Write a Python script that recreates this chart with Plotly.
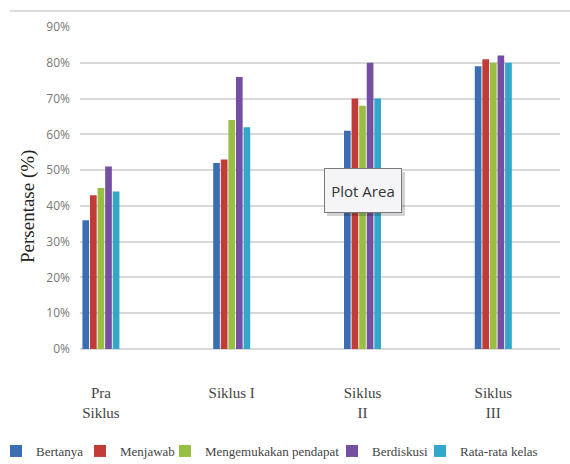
import plotly.graph_objects as go

categories = ["Pra<br>Siklus", "Siklus I", "Siklus<br>II", "Siklus<br>III"]
series_names = ["Bertanya", "Menjawab", "Mengemukakan pendapat", "Berdiskusi", "Rata-rata kelas"]
bertanya = [0.36, 0.52, 0.61, 0.79]
menjawab = [0.43, 0.53, 0.70, 0.81]
mengemukakan = [0.45, 0.64, 0.68, 0.80]
berdiskusi = [0.51, 0.76, 0.80, 0.82]
rata_rata = [0.44, 0.62, 0.70, 0.80]
colors = ["#3b6db3", "#c23b36", "#98bf43", "#744fa2", "#33a7c9"]
y_ticks = [0, 0.1, 0.2, 0.3, 0.4, 0.5, 0.6, 0.7, 0.8, 0.9]

# legend text start positions (pixels) for each series entry
legend_text_px = [36, 120, 205, 372, 460]

values = [bertanya, menjawab, mengemukakan, berdiskusi, rata_rata]
xs = list(range(len(categories)))

W, H = 570, 464
ML, MR, MT, MB = 80, 10, 27, 115
PW = W - ML - MR
PH = H - MT - MB


def px_x(p):
    return (p - ML) / PW


def px_y(p):
    return (MT + PH - p) / PH


serif = "Liberation Serif"
fig = go.Figure()
legend_layout = {}
for i, (name, vals, col) in enumerate(zip(series_names, values, colors)):
    lname = "legend" if i == 0 else f"legend{i+1}"
    fig.add_trace(go.Bar(x=xs, y=vals, name=name, legend=lname,
                         marker=dict(color=col, line=dict(width=0))))
    legend_layout[lname] = dict(
        orientation="h", x=px_x(legend_text_px[i] - 40), y=px_y(436),
        xanchor="left", yanchor="top",
        font=dict(family=serif, size=13, color="#444"),
        itemwidth=30, bgcolor="rgba(0,0,0,0)", borderwidth=0,
    )

fig.update_layout(
    width=W, height=H,
    margin=dict(l=ML, r=MR, t=MT, b=MB, autoexpand=False),
    paper_bgcolor="white", plot_bgcolor="white",
    barmode="group", bargap=0.71, bargroupgap=0.12,
    showlegend=True,
    xaxis=dict(tickmode="array", tickvals=xs, ticktext=categories,
               range=[-0.16, 3.51], showgrid=False, zeroline=False, showline=False,
               ticks="", tickfont=dict(family=serif, size=15, color="#444"),
               ticklabelstandoff=33),
    yaxis=dict(range=[0, 0.9], tickvals=y_ticks, tickformat=".0%",
               showgrid=True, gridcolor="#d9d9d9", gridwidth=1.5, zeroline=True,
               zerolinecolor="#d9d9d9", zerolinewidth=1.5,
               tickfont=dict(family="Open Sans", size=12, color="#777"),
               ticklabelstandoff=9),
    **legend_layout,
)

# y-axis title
fig.add_annotation(xref="paper", yref="paper", x=px_x(28), y=px_y(207),
                   text="Persentase (%)", textangle=-90, showarrow=False,
                   xanchor="center", yanchor="middle",
                   font=dict(family=serif, size=19, color="#222"))

# chart border top line
fig.add_shape(type="line", xref="paper", yref="paper", x0=px_x(10), x1=1.03,
              y0=px_y(11), y1=px_y(11),
              line=dict(color="#d0d0d0", width=1.5))

# shadow of the "Plot Area" tooltip
fig.add_shape(type="rect", xref="paper", yref="paper", layer="above",
              x0=px_x(327), x1=px_x(405), y0=px_y(172), y1=px_y(216),
              fillcolor="rgba(0,0,0,0.18)", line=dict(width=0))

# "Plot Area" tooltip box
fig.add_annotation(xref="paper", yref="paper", x=px_x(363), y=px_y(190),
                   text="Plot Area", showarrow=False, xanchor="center", yanchor="middle",
                   width=72, height=39, borderpad=2,
                   font=dict(family="Open Sans", size=15, color="#333"),
                   bgcolor="#f5f5f8", bordercolor="#7a7a7a", borderwidth=1)

fig.write_html("out.html")
